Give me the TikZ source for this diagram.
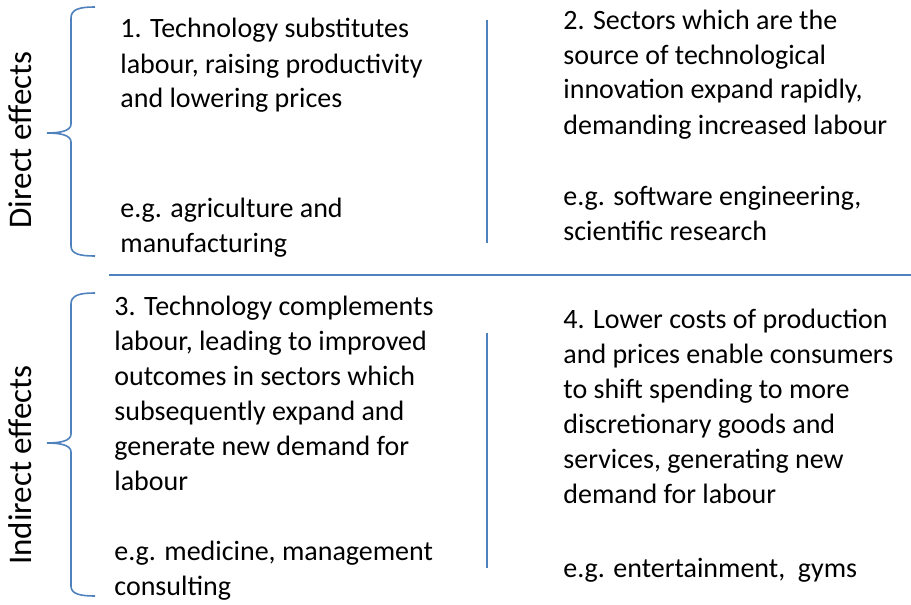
\documentclass[tikz,border=0pt]{standalone}
\usepackage{fontspec}
\setmainfont{Carlito}
\usepackage{tikz}
\definecolor{lineblue}{RGB}{79,129,189}

\begin{document}
\begin{tikzpicture}[x=0.5pt,y=-0.5pt,
  txt/.style={anchor=base west,inner sep=0,font=\fontsize{14}{17.5}\selectfont},
  side/.style={anchor=base,inner sep=0,rotate=90,font=\fontsize{16.5}{20}\selectfont},
  rule/.style={draw=lineblue,line width=1pt},
  brace/.style={draw=lineblue,line width=0.8pt}]
\useasboundingbox (0,0) rectangle (911,605);
% direct effects
\node[side] (direct) at (32,140) {Direct effects};
\draw[brace] (95,7) .. controls (80,7) and (71,9) .. (71,18) -- (71,124)
  .. controls (71,131) and (60,133) .. (47,133)
  .. controls (60,133) and (71,135) .. (71,142) -- (71,246)
  .. controls (71,254) and (80,256) .. (95,256);
% indirect effects
\node[side] (indirect) at (32,465) {Indirect effects};
\draw[brace] (95,293) .. controls (80,293) and (71,295) .. (71,304) -- (71,434)
  .. controls (71,441) and (60,443) .. (47,443)
  .. controls (60,443) and (71,445) .. (71,452) -- (71,586)
  .. controls (71,594) and (80,596) .. (95,596);
% separators
\draw[rule] (487,20) -- (487,243);
\draw[rule] (109,275) -- (911,275);
\draw[rule] (487,333) -- (487,568);
% box 1
\node[txt] (t1) at (120,38) {\begin{minipage}[t]{210pt}
1. Technology substitutes\\
labour, raising productivity\\
and lowering prices
\end{minipage}};
\node[txt] (eg1) at (120,217) {\begin{minipage}[t]{210pt}
e.g. agriculture and\\
manufacturing
\end{minipage}};
% box 2
\node[txt] (t2) at (563,29) {\begin{minipage}[t]{210pt}
2. Sectors which are the\\
source of technological\\
innovation expand rapidly,\\
demanding increased labour
\end{minipage}};
\node[txt] (eg2) at (563,205) {\begin{minipage}[t]{210pt}
e.g. software engineering,\\
scientific research
\end{minipage}};
% box 3
\node[txt] (t3) at (114,315) {\begin{minipage}[t]{210pt}
3. Technology complements\\
labour, leading to improved\\
outcomes in sectors which\\
subsequently expand and\\
generate new demand for\\
labour
\end{minipage}};
\node[txt] (eg3) at (114,560) {\begin{minipage}[t]{210pt}
e.g. medicine, management\\
consulting
\end{minipage}};
% box 4
\node[txt] (t4) at (563,328) {\begin{minipage}[t]{210pt}
4. Lower costs of production\\
and prices enable consumers\\
to shift spending to more\\
discretionary goods and\\
services, generating new\\
demand for labour
\end{minipage}};
\node[txt] (eg4) at (563,577) {\begin{minipage}[t]{210pt}
e.g. entertainment,\ \ gyms
\end{minipage}};
\end{tikzpicture}
\end{document}
